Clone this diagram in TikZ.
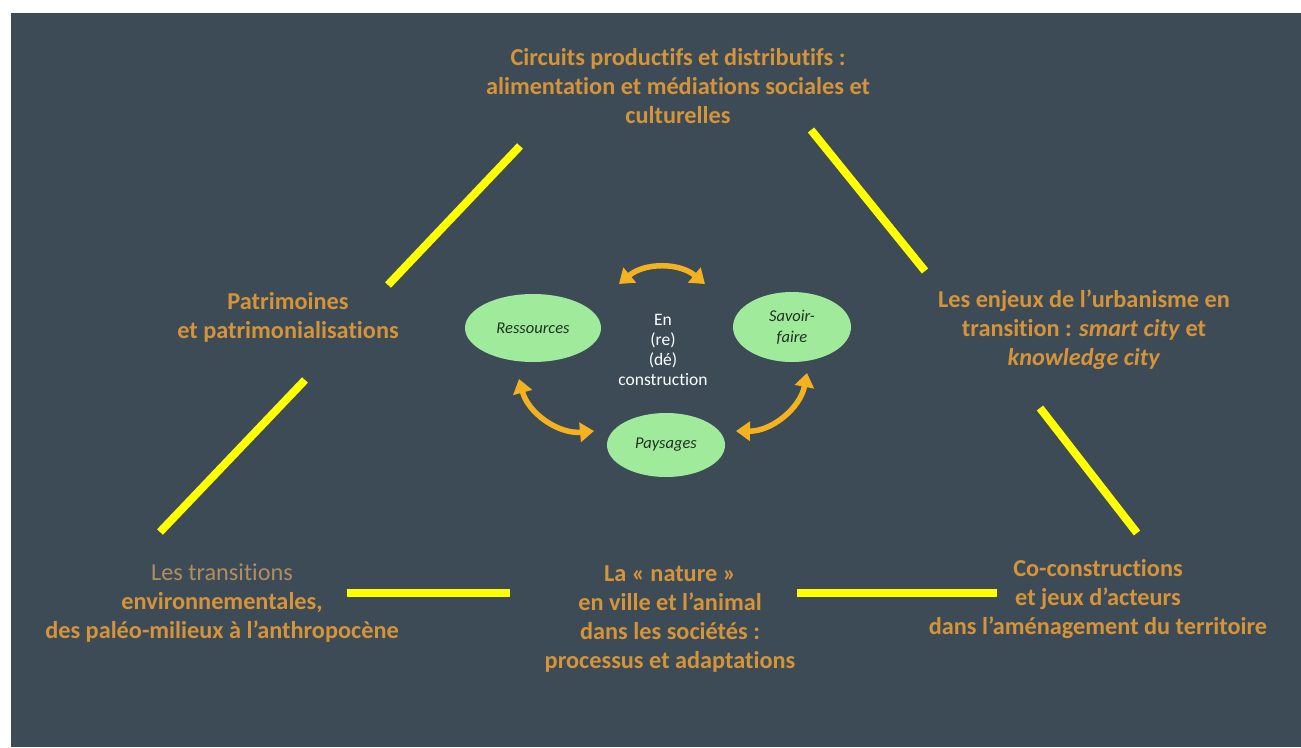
\documentclass[tikz,border=0pt]{standalone}
\usepackage{fontspec}
\setmainfont[Ligatures=NoCommon]{Carlito}
\usetikzlibrary{shapes.geometric,arrows.meta}
\definecolor{bgslate}{RGB}{61,75,87}
\definecolor{txtorange}{RGB}{212,148,58}
\definecolor{txtdim}{RGB}{175,142,95}
\definecolor{lineyellow}{RGB}{255,255,0}
\definecolor{arrorange}{RGB}{245,178,31}
\definecolor{ellgreen}{RGB}{160,234,156}
\definecolor{elltext}{RGB}{30,50,30}
\tikzset{
  theme/.style={text=txtorange, font=\fontsize{24.3}{29}\selectfont\bfseries, align=center},
  sep/.style={draw=lineyellow, line width=8pt},
  oval/.style={ellipse, fill=ellgreen, text=elltext, font=\fontsize{16.5}{21}\selectfont\itshape, align=center, inner sep=0pt},
  link/.style={draw=arrorange, line width=5.5pt, {Triangle[width=19pt,length=14pt]}-{Triangle[width=19pt,length=14pt]}},
}
\begin{document}
\begin{tikzpicture}[x=1pt,y=-1pt]
\useasboundingbox (0,0) rectangle (1301,747);
\fill[white] (0,0) rectangle (1301,747);
\fill[bgslate] (11,13) rectangle (1301,747);

% theme texts
\node[theme] (top) at (678,86) {Circuits productifs et distributifs :\\alimentation et médiations sociales et\\culturelles};
\node[theme] (patri) at (288,317) {Patrimoines\\et patrimonialisations};
\node[theme] (urb) at (1084,330) {Les enjeux de l’urbanisme en\\transition : \textit{smart city} et\\\textit{knowledge city}};
\node[theme] (trans) at (222,603) {\textcolor{txtdim}{\mdseries Les transitions}\\environnementales,\\des paléo-milieux à l’anthropocène};
\node[theme] (nat) at (670,619) {La « nature »\\en ville et l’animal\\dans les sociétés :\\processus et adaptations};
\node[theme] (coc) at (1098,599) {Co-constructions\\et jeux d’acteurs\\dans l’aménagement du territoire};

% yellow separators
\coordinate (tlA) at (388,285); \coordinate (tlB) at (520,146);
\coordinate (trA) at (811,130); \coordinate (trB) at (925,271);
\coordinate (lA) at (305,380);  \coordinate (lB) at (160,532);
\coordinate (rA) at (1040,408); \coordinate (rB) at (1137,533);
\coordinate (blA) at (347,593); \coordinate (blB) at (510,593);
\coordinate (brA) at (797,593); \coordinate (brB) at (997,593);
\draw[sep] (tlA) -- (tlB);
\draw[sep] (trA) -- (trB);
\draw[sep] (lA) -- (lB);
\draw[sep] (rA) -- (rB);
\draw[sep] (blA) -- (blB);
\draw[sep] (brA) -- (brB);

% central ovals
\node[oval, minimum width=136pt, minimum height=68pt] (res) at (533,328) {Ressources};
\node[oval, minimum width=118pt, minimum height=70pt] (sav) at (792,327) {Savoir-\\faire};
\node[oval, minimum width=118pt, minimum height=64pt] (pay) at (666,445) {Paysages};
\node[text=white, font=\fontsize{17.5}{20}\selectfont, align=center] (cen) at (663,350) {En\\(re)\\(dé)\\construction};

% arrows
\coordinate (a1) at (619,284); \coordinate (a2) at (705,284);
\coordinate (b1) at (519,379); \coordinate (b2) at (594,431);
\coordinate (c1) at (736,431); \coordinate (c2) at (807,373);
\draw[link] (a1) to[bend left=40] (a2);
\draw[link] (b1) to[bend right=40] (b2);
\draw[link] (c1) to[bend right=40] (c2);
\end{tikzpicture}
\end{document}
